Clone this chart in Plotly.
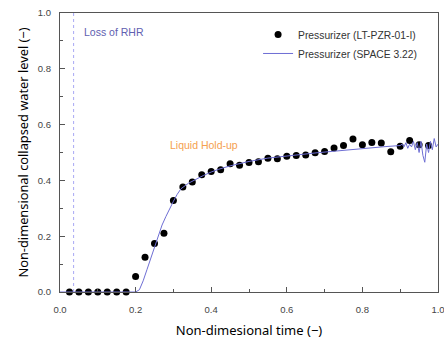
import plotly.graph_objects as go

# Experimental data (LT-PZR-01-I)
exp_x = [0.025, 0.05, 0.075, 0.1, 0.125, 0.15, 0.175, 0.2, 0.225, 0.25, 0.275, 0.3, 0.325,
         0.35, 0.375, 0.4, 0.425, 0.45, 0.475, 0.5, 0.525, 0.55, 0.575, 0.6, 0.625, 0.65, 0.675,
         0.7, 0.725, 0.75, 0.775, 0.8, 0.825, 0.85, 0.875, 0.9, 0.925, 0.95, 0.975]
exp_y = [0.0, 0.0, 0.0, 0.0, 0.0, 0.0, 0.0, 0.056, 0.125, 0.174, 0.211, 0.328, 0.376,
         0.394, 0.420, 0.432, 0.438, 0.460, 0.454, 0.464, 0.467, 0.479, 0.478, 0.487, 0.489, 0.491, 0.499,
         0.504, 0.516, 0.525, 0.548, 0.528, 0.536, 0.534, 0.503, 0.522, 0.543, 0.528, 0.525]

# SPACE 3.22 calculation
sim_x = [0.0, 0.1, 0.2, 0.21, 0.22, 0.23, 0.24, 0.25, 0.26, 0.27, 0.28, 0.29, 0.30, 0.31, 0.32,
         0.34, 0.36, 0.38, 0.40, 0.42, 0.45, 0.48, 0.50, 0.55, 0.60, 0.65, 0.68, 0.72, 0.78, 0.82,
         0.86, 0.90, 0.905, 0.91, 0.915, 0.92, 0.925, 0.93, 0.935, 0.94, 0.945, 0.95, 0.955,
         0.96, 0.965, 0.97, 0.975, 0.98, 0.985, 0.99, 0.995, 1.0]
sim_y = [0.0, 0.0, 0.0, 0.008, 0.04, 0.08, 0.12, 0.16, 0.20, 0.24, 0.27, 0.30, 0.325, 0.35, 0.37,
         0.39, 0.405, 0.418, 0.43, 0.44, 0.452, 0.463, 0.468, 0.48, 0.488, 0.495, 0.499, 0.504, 0.512, 0.517,
         0.521, 0.525, 0.53, 0.52, 0.535, 0.515, 0.53, 0.52, 0.54, 0.51, 0.535, 0.50, 0.54,
         0.49, 0.465, 0.53, 0.50, 0.54, 0.51, 0.55, 0.52, 0.53]

x_ticks = [0.0, 0.2, 0.4, 0.6, 0.8, 1.0]
y_ticks = [0.0, 0.2, 0.4, 0.6, 0.8, 1.0]
rhr_x = 0.036

fig = go.Figure()
fig.add_trace(go.Scatter(x=exp_x, y=exp_y, mode="markers", name="Pressurizer (LT-PZR-01-I)",
                         marker=dict(color="black", size=7), cliponaxis=False))
fig.add_trace(go.Scatter(x=sim_x, y=sim_y, mode="lines", name="Pressurizer (SPACE 3.22)",
                         line=dict(color="#6e6ed4", width=1)))

fig.add_shape(type="line", x0=rhr_x, x1=rhr_x, y0=0, y1=1, xref="x", yref="y",
              line=dict(color="#9090f0", width=0.8, dash="dot"))
fig.add_annotation(x=0.057, y=0.933, text="Loss of RHR", showarrow=False, xanchor="left",
                   font=dict(color="#6060b0", size=10.5, family="Liberation Sans"))
fig.add_annotation(x=0.287, y=0.526, text="Liquid Hold-up", showarrow=False, xanchor="left",
                   font=dict(color="#f5a050", size=10.5, family="Liberation Sans"))

axis_common = dict(showline=True, linecolor="#555", linewidth=1.2, mirror=True,
                   ticks="inside", ticklen=5, tickcolor="#555", showgrid=False, zeroline=False,
                   ticklabeloverflow="allow", automargin=False,
                   tickfont=dict(size=9.5, color="#444", family="Liberation Sans"))

fig.update_xaxes(range=[0, 1], tickvals=x_ticks, ticktext=[f"{v:.1f}" for v in x_ticks],
                 minor=dict(ticks="inside", dtick=0.1, tick0=0, ticklen=3, tickcolor="#555"),
                 ticklabelstandoff=8,
                 title=dict(text="Non-dimesional time (−)", font=dict(size=13, color="black", family="Noto Sans"),
                            standoff=12),
                 **axis_common)
fig.update_yaxes(range=[0, 1], tickvals=y_ticks, ticktext=[f"{v:.1f}" for v in y_ticks],
                 minor=dict(ticks="inside", dtick=0.1, tick0=0, ticklen=3, tickcolor="#555"),
                 ticklabelstandoff=6,
                 title=dict(text="Non-dimensional collapsed water level (−)",
                            font=dict(size=12.8, color="black", family="Noto Sans"), standoff=6),
                 **axis_common)

fig.update_layout(width=444, height=340, margin=dict(l=60, r=6, t=13, b=48),
                  plot_bgcolor="white", paper_bgcolor="white",
                  legend=dict(x=0.524, y=0.975, xanchor="left", yanchor="top",
                              bgcolor="rgba(0,0,0,0)", font=dict(size=10.3, color="#333", family="Liberation Sans"),
                              tracegroupgap=0, itemwidth=30))

fig.write_html("out.html")
